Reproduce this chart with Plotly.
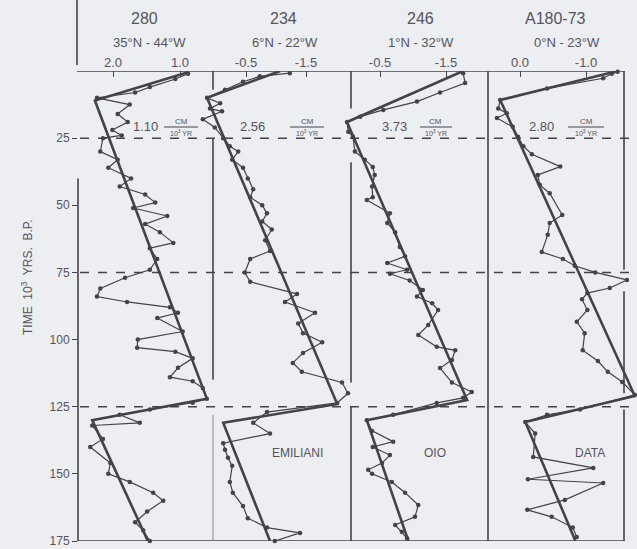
import plotly.graph_objects as go

# ---------------- data ----------------
# time axis: 10^3 yr B.P.; value axis: per-core isotope scale

# core 280 (35°N - 44°W)
t_280 = [1, 3, 6, 8, 10, 12.5, 16, 19, 22, 24, 25, 30, 33, 36, 40, 43, 46, 49, 51, 54,
         57, 60, 64, 66, 70, 74, 77, 81, 84, 86, 88, 90, 92, 97, 100, 103, 104.5, 107, 110.5, 114,
         115.5, 118, 122, 123.5, 126, 128, 131, 132, 137, 140, 146, 150, 153, 157, 160, 164, 168, 171, 175]
d_280 = [0.88, 1.07, 1.45, 1.67, 2.24, 1.75, 1.93, 1.78, 2.01, 1.87, 2.15, 2.19, 1.93, 2.07, 1.73,
         1.90, 1.52, 1.37, 1.70, 1.19, 1.52, 1.30, 1.10, 1.45, 1.34, 1.45, 1.82, 2.19, 2.24, 1.79,
         1.15, 1.03, 1.34, 0.96, 1.63, 1.64, 1.07, 0.81, 1.03, 1.15, 0.81, 0.66, 0.60, 0.81, 1.45,
         1.90, 1.60, 2.31, 2.15, 2.34, 2.04, 2.07, 1.75, 1.40, 1.25, 1.49, 1.67, 1.55, 1.45]
tm_280 = [0.5, 11, 122, 130, 175]
m_280 = [0.88, 2.27, 0.60, 2.31, 1.48]

# core 234 (6°N - 22°W)
t_234 = [0.8, 2, 4, 7, 10, 12, 14, 15, 18, 21, 25, 28, 30, 33, 36, 40, 44, 47, 50, 53,
         56, 59, 63, 67, 70, 75, 78.5, 83, 86, 90, 94, 97.6, 101, 105, 108.7, 112, 116, 120, 123.6, 127,
         131, 135, 138.6, 141, 144, 147, 153, 157, 162, 166.5, 170, 172, 175]
d_234 = [-1.23, -0.73, -0.45, -0.15, 0.15, -0.07, 0.10, -0.10, 0.22, 0.02, -0.12, -0.23, -0.37,
         -0.27, -0.45, -0.53, -0.62, -0.57, -0.77, -0.85, -0.77, -0.93, -0.82, -0.90, -0.57, -0.48,
         -0.57, -1.35, -1.15, -1.65, -1.37, -1.45, -1.77, -1.45, -1.28, -1.43, -2.10, -2.20, -2.02,
         -0.85, -0.62, -0.90, -0.12, -0.15, -0.20, -0.27, -0.23, -0.28, -0.45, -0.53, -0.85, -1.40, -0.98]
tm_234 = [0, 10, 124, 131, 175]
m_234 = [-1.07, 0.15, -2.02, -0.12, -0.90]

# core 246 (1°N - 32°W)
t_246 = [0.8, 4.5, 8, 11.4, 14.5, 17, 19, 22.6, 24.5, 30, 33, 35.7, 38.7, 43, 47, 48, 53, 56.6,
         60, 65.5, 69, 71.5, 74, 75.5, 78, 81.5, 84, 86.5, 89, 94.6, 98.3, 102.7, 104, 107.6, 110.6,
         116, 119.5, 121.7, 123.6, 128, 130, 134, 138, 140, 143, 146, 148.5, 150, 153, 157, 161.6,
         166, 169, 171.6, 174]
d_246 = [-1.76, -1.79, -1.41, -1.06, -0.55, -0.20, 0.00, -0.02, -0.09, -0.12, -0.27, -0.39, -0.42,
         -0.38, -0.39, -0.30, -0.65, -0.61, -0.73, -0.80, -0.88, -0.61, -0.91, -0.65, -0.95, -1.15,
         -1.06, -1.29, -1.38, -1.23, -1.08, -1.36, -1.64, -1.59, -1.41, -1.59, -1.89, -1.76, -1.36,
         -0.70, -0.30, -0.38, -0.70, -0.39, -0.65, -0.53, -0.32, -0.38, -0.68, -0.88, -1.08, -1.03,
         -0.73, -0.83, -0.91]
tm_246 = [0, 19, 122.5, 130, 175]
m_246 = [-1.76, 0.00, -1.82, -0.30, -0.93]

# core A180-73 (0°N - 23°W)
t_a180 = [0.3, 1, 2.7, 6.5, 10.8, 14, 15.7, 17.5, 20.8, 24.5, 28, 31, 35.6, 38.7, 42.4, 45.5,
          53.6, 56.6, 61, 67.4, 70, 72.5, 75, 77.8, 80.8, 82.7, 85, 89, 93.4, 97.6, 104, 108, 112,
          115.8, 120.6, 126, 128, 130.7, 135, 143.7, 147.8, 152, 153.4, 159.7, 163.4, 166, 170, 173.5]
d_a180 = [-1.48, -1.39, -1.26, -0.41, 0.30, 0.33, 0.20, 0.35, 0.11, 0.03, -0.05, -0.18, -0.61,
          -0.27, -0.30, -0.45, -0.64, -0.45, -0.42, -0.33, -0.65, -0.83, -1.14, -1.62, -1.36, -1.02,
          -0.94, -1.02, -0.86, -0.98, -0.95, -1.18, -1.33, -1.55, -1.74, -0.91, -0.41, -0.08, -0.23,
          -0.20, -1.11, -0.12, -1.26, -0.68, -0.11, -0.48, -0.80, -0.86]
tm_a180 = [0, 10.8, 121, 130.7, 175]
m_a180 = [-1.48, 0.30, -1.74, -0.08, -0.84]

core_names = ["280", "234", "246", "A180-73"]
core_sites = ["35°N - 44°W", "6°N - 22°W", "1°N - 32°W", "0°N - 23°W"]
rate_values = ["1.10", "2.56", "3.73", "2.80"]
panel_labels = ["", "EMILIANI", "OIO", "DATA"]
tick_values = [[2.0, 1.0], [-0.5, -1.5], [-0.5, -1.5], [0.0, -1.0]]
tick_labels = [["2.0", "1.0"], ["-0.5", "-1.5"], ["-0.5", "-1.5"], ["0.0", "-1.0"]]
time_ticks = [25, 50, 75, 100, 125, 150, 175]

# ---------------- layout geometry ----------------
W, H = 637, 549
X0, X1 = 78, 636          # plot area, px
Y0, Y1 = 71, 541
INK = "#45424a"
TXT = "#56545c"
BG = "#eceef1"
FONT = "Liberation Sans"


def px(x):
    return (x - X0) / (X1 - X0)


def py(y):
    return (Y1 - y) / (Y1 - Y0)


def axis_range(pa, va, pb, vb):
    s = (vb - va) / (pb - pa)
    return [va + (X0 - pa) * s, va + (X1 - pa) * s]


# pixel positions of the two labelled ticks of each panel
tick_px = [(113, 180), (246, 306), (380, 446), (520, 586)]

series = [(t_280, d_280, tm_280, m_280), (t_234, d_234, tm_234, m_234),
          (t_246, d_246, tm_246, m_246), (t_a180, d_a180, tm_a180, m_a180)]

fig = go.Figure()
for i, (tt, dd, tm, mm) in enumerate(series):
    xa = "x" if i == 0 else f"x{i + 1}"
    fig.add_trace(go.Scatter(x=mm, y=tm, xaxis=xa, yaxis="y", mode="lines",
                             line=dict(color=INK, width=2.6), hoverinfo="skip",
                             showlegend=False))
    fig.add_trace(go.Scatter(x=dd, y=tt, xaxis=xa, yaxis="y", mode="lines+markers",
                             line=dict(color=INK, width=1.2),
                             marker=dict(color=INK, size=4.5), cliponaxis=False,
                             showlegend=False))

layout = dict(
    width=W, height=H,
    margin=dict(l=X0, r=W - X1, t=Y0, b=H - Y1, pad=0),
    paper_bgcolor=BG, plot_bgcolor=BG,
    font=dict(family=FONT, color=TXT),
    yaxis=dict(range=[175, 0], tickvals=time_ticks, ticks="outside", ticklen=5,
               tickwidth=1.2, tickcolor=INK, showgrid=False, zeroline=False,
               showline=False, tickfont=dict(size=12, color=TXT)),
)
for i in range(4):
    key = "xaxis" if i == 0 else f"xaxis{i + 1}"
    (pa, pb), (va, vb) = tick_px[i], tick_values[i]
    ax = dict(range=axis_range(pa, va, pb, vb), side="top", anchor="y",
              tickvals=tick_values[i], ticktext=tick_labels[i],
              ticks="inside", ticklen=6, tickwidth=1.2, tickcolor=INK,
              showgrid=False, zeroline=False, showline=False,
              tickfont=dict(size=13, color=TXT), domain=[0, 1])
    if i > 0:
        ax["overlaying"] = "x"
    layout[key] = ax
fig.update_layout(**layout)

# ---------------- frame lines ----------------
shapes = []


def vseg(x, ta, tb, w=1.6, color=INK):
    shapes.append(dict(type="line", xref="paper", yref="y", x0=px(x), x1=px(x),
                       y0=ta, y1=tb, line=dict(color=color, width=w)))


def hseg(t, xa, xb, w=1.6, dash=None):
    line = dict(color=INK, width=w)
    if dash:
        line["dash"] = dash
    shapes.append(dict(type="line", xref="paper", yref="y", x0=px(xa), x1=px(xb),
                       y0=t, y1=t, line=line))


hseg(0, 77, 625)
hseg(175, 78, 625)
vseg(78, 40, 175)
shapes.append(dict(type="line", xref="paper", yref="paper", x0=px(77), x1=px(77),
                   y0=py(65), y1=py(0), line=dict(color=INK, width=1.6)))
vseg(213, 0, 7)
vseg(213, 25, 115)
vseg(213, 128, 175, w=1.0, color="#8a8790")
vseg(351, 0, 14)
vseg(351, 34, 116)
vseg(351, 125, 175)
vseg(488, 0, 175)
vseg(624, 0, 74)
vseg(624, 82, 120)
vseg(624, 126, 175)
for tline in (25, 75, 125):
    hseg(tline, 80, 630, w=1.5, dash="dash")

# rate fraction bars
frac_px = [(164, 198), (290, 324), (420, 452), (568, 604)]
for (xa, xb) in frac_px:
    shapes.append(dict(type="line", xref="paper", yref="paper", x0=px(xa), x1=px(xb),
                       y0=py(127), y1=py(127), line=dict(color=INK, width=1.0)))
fig.update_layout(shapes=shapes)

# ---------------- text ----------------
ann = []
name_px = [144, 283, 420, 555]
site_px = [149, 285, 421, 567]
rate_px = [145, 252, 394, 541]
label_px = [0, 297, 435, 590]
C = dict(xref="paper", yref="paper", showarrow=False, xanchor="center", yanchor="middle")
for i in range(4):
    ann.append(dict(text=core_names[i], x=px(name_px[i]), y=py(18),
                    font=dict(size=16, color=TXT), **C))
    ann.append(dict(text=core_sites[i], x=px(site_px[i]), y=py(42),
                    font=dict(size=13, color=TXT), **C))
    ann.append(dict(text=rate_values[i], x=px(rate_px[i]), y=py(127),
                    font=dict(size=13, color=TXT), **C))
    xa, xb = frac_px[i]
    ann.append(dict(text="CM", x=px((xa + xb) / 2), y=py(121),
                    font=dict(size=8, color=TXT), **C))
    ann.append(dict(text="10<sup>3</sup> YR", x=px((xa + xb) / 2), y=py(133),
                    font=dict(size=7, color=TXT), **C))
    if panel_labels[i]:
        ann.append(dict(text=panel_labels[i], x=px(label_px[i]), y=py(453),
                        font=dict(size=12, color=TXT), **C))
ann.append(dict(text="TIME  10<sup>3</sup>  YRS.  B.P.", x=px(27), y=py(277),
                textangle=-90, font=dict(size=12, color=TXT), **C))
fig.update_layout(annotations=ann)

fig.write_html("out.html")
